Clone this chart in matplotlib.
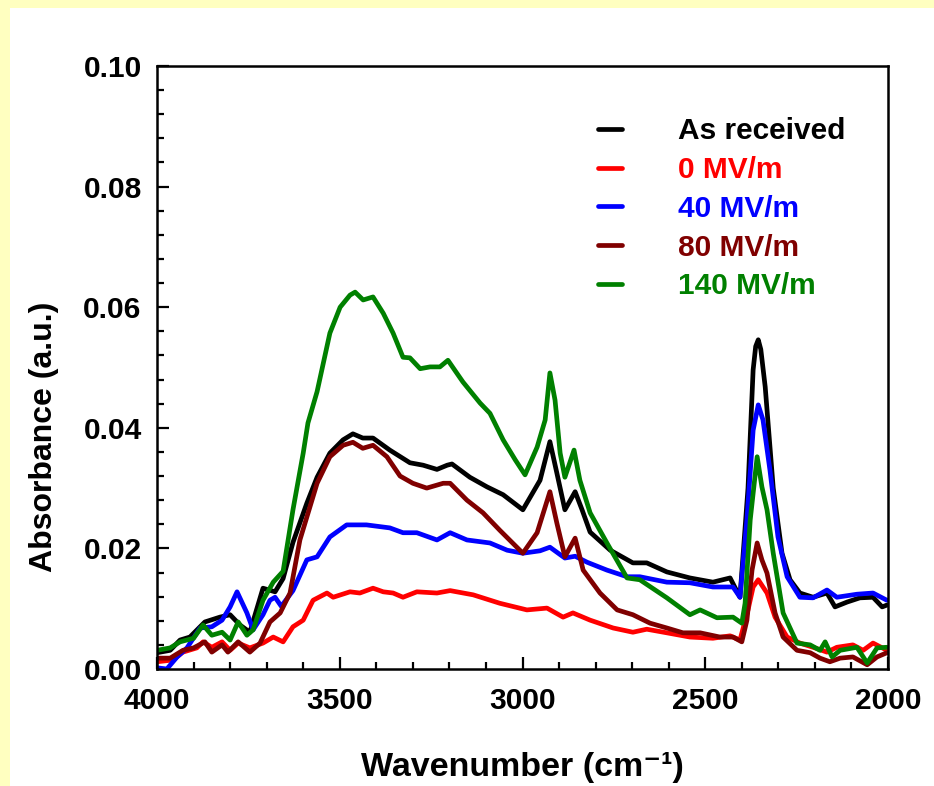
#!/usr/bin/env python3

"""FTIR absorbance spectra of the film, as received and after poling at several fields."""

import matplotlib
matplotlib.use("Agg")
import matplotlib.pyplot as plt
from matplotlib.patches import Rectangle
from matplotlib.ticker import MultipleLocator, FormatStrFormatter

# ---------------------------------------------------------------------------
# Spectra (wavenumber in cm-1, absorbance in a.u.)
# ---------------------------------------------------------------------------
wn_asrec = [4000, 3964, 3937, 3910, 3869, 3828, 3800, 3773, 3746, 3710, 3677, 3655,
            3628, 3590, 3562, 3527, 3491, 3464, 3437, 3409, 3363, 3308, 3272, 3234,
            3206, 3193, 3144, 3097, 3053, 2999, 2952, 2925, 2906, 2884, 2856, 2837,
            2815, 2760, 2698, 2660, 2605, 2542, 2479, 2432, 2405, 2383, 2369, 2362,
            2355, 2348, 2336, 2314, 2290, 2268, 2241, 2205, 2167, 2145, 2112, 2077,
            2041, 2016, 2003]
abs_asrec = [0.0027, 0.0031, 0.0048, 0.0053, 0.0078, 0.0086, 0.0090, 0.0073, 0.0061, 0.0134, 0.0128, 0.0150,
             0.0210, 0.0275, 0.0318, 0.0358, 0.0380, 0.0390, 0.0383, 0.0383, 0.0363, 0.0342, 0.0338, 0.0331,
             0.0338, 0.0340, 0.0318, 0.0302, 0.0289, 0.0264, 0.0313, 0.0377, 0.0325, 0.0264, 0.0294, 0.0264,
             0.0227, 0.0197, 0.0176, 0.0176, 0.0161, 0.0151, 0.0144, 0.0151, 0.0119, 0.0300, 0.0496, 0.0535,
             0.0546, 0.0530, 0.0468, 0.0300, 0.0192, 0.0148, 0.0126, 0.0119, 0.0126, 0.0103, 0.0111, 0.0118,
             0.0119, 0.0103, 0.0106]

wn_0mv = [4000, 3956, 3929, 3891, 3874, 3850, 3822, 3800, 3778, 3746, 3710, 3682,
          3655, 3628, 3600, 3573, 3535, 3518, 3472, 3445, 3409, 3381, 3354, 3327,
          3289, 3234, 3198, 3135, 3062, 2988, 2933, 2889, 2862, 2815, 2752, 2698,
          2660, 2605, 2542, 2479, 2432, 2405, 2383, 2369, 2355, 2331, 2309, 2276,
          2241, 2205, 2167, 2140, 2096, 2068, 2041, 2003]
abs_0mv = [0.0012, 0.0015, 0.0028, 0.0035, 0.0045, 0.0036, 0.0045, 0.0031, 0.0043, 0.0035, 0.0043, 0.0053,
           0.0045, 0.0070, 0.0081, 0.0114, 0.0126, 0.0119, 0.0128, 0.0126, 0.0134, 0.0128, 0.0126, 0.0119,
           0.0128, 0.0126, 0.0130, 0.0123, 0.0109, 0.0098, 0.0101, 0.0086, 0.0093, 0.0081, 0.0068, 0.0061,
           0.0066, 0.0060, 0.0053, 0.0051, 0.0055, 0.0048, 0.0098, 0.0136, 0.0148, 0.0126, 0.0086, 0.0053,
           0.0043, 0.0036, 0.0028, 0.0036, 0.0040, 0.0031, 0.0043, 0.0031]

wn_40mv = [4000, 3973, 3945, 3918, 3882, 3850, 3822, 3800, 3781, 3754, 3737, 3710,
           3691, 3677, 3660, 3628, 3590, 3562, 3527, 3481, 3427, 3363, 3327, 3289,
           3234, 3198, 3152, 3089, 3042, 2999, 2952, 2925, 2884, 2856, 2823, 2769,
           2714, 2679, 2605, 2542, 2479, 2424, 2405, 2386, 2369, 2355, 2342, 2323,
           2301, 2276, 2241, 2205, 2167, 2140, 2085, 2041, 2003]
abs_40mv = [0.0002, 0.0000, 0.0020, 0.0035, 0.0068, 0.0070, 0.0081, 0.0103, 0.0128, 0.0093, 0.0065, 0.0090,
            0.0114, 0.0119, 0.0104, 0.0130, 0.0181, 0.0186, 0.0219, 0.0239, 0.0239, 0.0234, 0.0226, 0.0226,
            0.0214, 0.0226, 0.0214, 0.0209, 0.0197, 0.0192, 0.0196, 0.0202, 0.0184, 0.0187, 0.0177, 0.0164,
            0.0153, 0.0153, 0.0144, 0.0143, 0.0136, 0.0136, 0.0119, 0.0247, 0.0396, 0.0438, 0.0413, 0.0330,
            0.0219, 0.0153, 0.0119, 0.0118, 0.0131, 0.0119, 0.0124, 0.0126, 0.0114]

wn_80mv = [4000, 3964, 3929, 3900, 3869, 3850, 3822, 3806, 3778, 3746, 3718, 3691,
           3663, 3636, 3609, 3562, 3527, 3491, 3464, 3437, 3409, 3371, 3335, 3300,
           3262, 3217, 3198, 3152, 3108, 3062, 2999, 2960, 2925, 2906, 2884, 2856,
           2834, 2788, 2741, 2698, 2651, 2605, 2561, 2514, 2460, 2424, 2400, 2386,
           2372, 2358, 2345, 2331, 2309, 2287, 2249, 2213, 2186, 2159, 2131, 2096,
           2057, 2030, 2003]
abs_80mv = [0.0018, 0.0018, 0.0031, 0.0035, 0.0045, 0.0028, 0.0040, 0.0028, 0.0045, 0.0028, 0.0043, 0.0078,
            0.0093, 0.0126, 0.0214, 0.0308, 0.0352, 0.0371, 0.0376, 0.0366, 0.0371, 0.0352, 0.0320, 0.0308,
            0.0300, 0.0308, 0.0308, 0.0280, 0.0259, 0.0230, 0.0192, 0.0226, 0.0294, 0.0242, 0.0186, 0.0217,
            0.0164, 0.0126, 0.0098, 0.0090, 0.0076, 0.0068, 0.0060, 0.0060, 0.0053, 0.0053, 0.0045, 0.0081,
            0.0164, 0.0209, 0.0181, 0.0159, 0.0093, 0.0053, 0.0031, 0.0027, 0.0018, 0.0012, 0.0018, 0.0020,
            0.0007, 0.0020, 0.0027]

wn_140mv = [4000, 3964, 3937, 3900, 3874, 3850, 3822, 3800, 3778, 3754, 3737, 3710,
            3682, 3655, 3628, 3600, 3587, 3562, 3527, 3499, 3472, 3458, 3436, 3409,
            3381, 3354, 3327, 3308, 3280, 3253, 3226, 3204, 3179, 3163, 3116, 3089,
            3053, 3020, 2993, 2960, 2938, 2925, 2911, 2897, 2884, 2859, 2843, 2815,
            2769, 2714, 2679, 2605, 2542, 2514, 2468, 2424, 2400, 2391, 2377, 2358,
            2345, 2331, 2314, 2287, 2249, 2213, 2186, 2172, 2153, 2131, 2085, 2057,
            2030, 2003]
abs_140mv = [0.0031, 0.0035, 0.0045, 0.0051, 0.0073, 0.0056, 0.0061, 0.0048, 0.0078, 0.0056, 0.0065, 0.0114,
             0.0144, 0.0162, 0.0264, 0.0358, 0.0408, 0.0460, 0.0557, 0.0600, 0.0620, 0.0625, 0.0612, 0.0617,
             0.0590, 0.0557, 0.0517, 0.0516, 0.0498, 0.0501, 0.0501, 0.0512, 0.0490, 0.0476, 0.0441, 0.0424,
             0.0380, 0.0347, 0.0322, 0.0368, 0.0413, 0.0491, 0.0446, 0.0358, 0.0318, 0.0363, 0.0313, 0.0259,
             0.0209, 0.0151, 0.0148, 0.0118, 0.0090, 0.0098, 0.0085, 0.0086, 0.0076, 0.0109, 0.0247, 0.0352,
             0.0302, 0.0264, 0.0192, 0.0093, 0.0043, 0.0040, 0.0031, 0.0045, 0.0020, 0.0031, 0.0036, 0.0010,
             0.0035, 0.0036]

labels = ["As received", "0 MV/m", "40 MV/m", "80 MV/m", "140 MV/m"]
colors = ["#000000", "#FF0000", "#0000FF", "#800000", "#008000"]
spectra = [(wn_asrec, abs_asrec), (wn_0mv, abs_0mv), (wn_40mv, abs_40mv),
           (wn_80mv, abs_80mv), (wn_140mv, abs_140mv)]

# ---------------------------------------------------------------------------
# Canvas
# ---------------------------------------------------------------------------
plt.rcParams["font.family"] = ["Liberation Sans", "DejaVu Sans"]
plt.rcParams["font.weight"] = "bold"

fig = plt.figure(figsize=(9.34, 7.86), dpi=100)
fig.patch.set_facecolor("#FFFFC0")
# white page on the pale yellow frame
fig.add_artist(Rectangle((10 / 934, 0), 1, 1 - 8 / 786, transform=fig.transFigure,
                         facecolor="white", edgecolor="none", zorder=-10))

ax = fig.add_axes([157 / 934, 1 - 669 / 786, 731 / 934, 603 / 786])
ax.set_facecolor("white")

for (wn, ab), lab, col in zip(spectra, labels, colors):
    ax.plot(wn, ab, color=col, lw=3.4, label=lab,
            solid_joinstyle="round", solid_capstyle="round")

ax.set_xlim(4000, 2000)
ax.set_ylim(0, 0.10)

ax.xaxis.set_major_locator(MultipleLocator(500))
ax.xaxis.set_minor_locator(MultipleLocator(100))
ax.yaxis.set_major_locator(MultipleLocator(0.02))
ax.yaxis.set_minor_locator(MultipleLocator(0.004))
ax.yaxis.set_major_formatter(FormatStrFormatter("%.2f"))

ax.tick_params(which="both", direction="in", top=False, right=False, width=1.6)
ax.tick_params(which="major", length=8.5, labelsize=21.5)
ax.tick_params(axis="x", which="major", pad=13)
ax.tick_params(axis="y", which="major", pad=11)
ax.tick_params(which="minor", length=5)
for lbl in ax.get_xticklabels() + ax.get_yticklabels():
    lbl.set_fontweight("bold")
for sp in ax.spines.values():
    sp.set_linewidth(1.8)

ax.set_xlabel("Wavenumber (cm\u207B\u00B9)", fontsize=24.5, fontweight="bold", va="top")
ax.xaxis.set_label_coords(0.5, -0.138)
ax.set_ylabel("Absorbance (a.u.)", fontsize=23, fontweight="bold", va="center")
ax.yaxis.set_label_coords(-0.155, 0.385)

leg = ax.legend(loc="upper left", bbox_to_anchor=(0.603, 0.915), frameon=False,
                handlelength=0.8, handletextpad=1.9,
                labelspacing=0.36, borderpad=0, borderaxespad=0,
                labelcolor="linecolor", prop={"weight": "bold", "size": 21.5})

fig.savefig("out.png", dpi=100, facecolor=fig.get_facecolor())
